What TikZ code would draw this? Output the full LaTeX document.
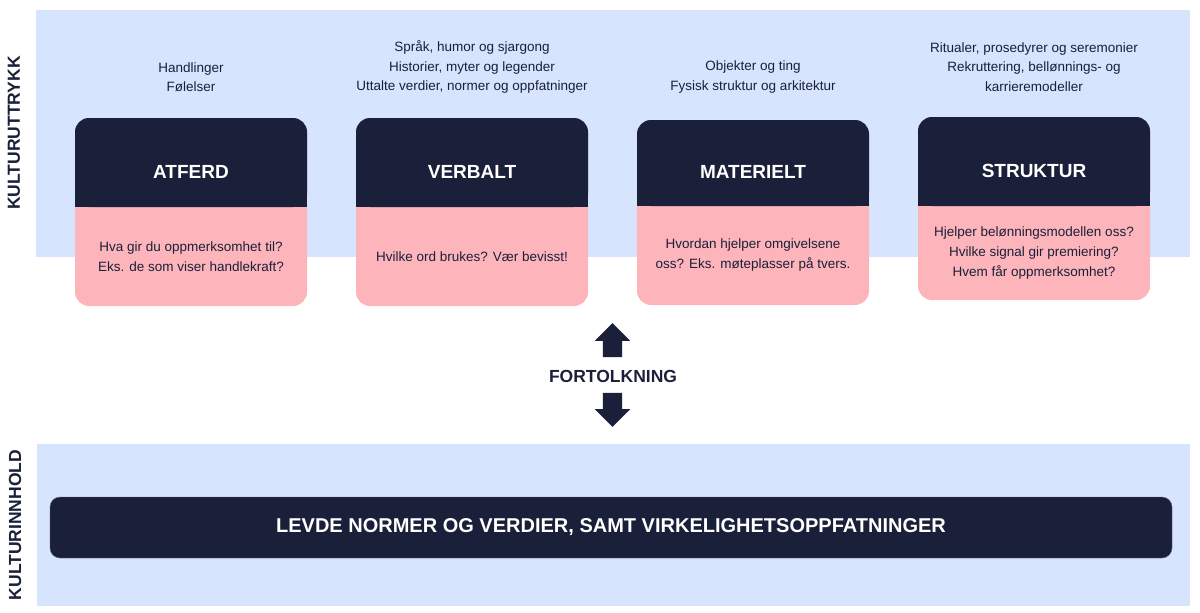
\documentclass[tikz,border=0pt]{standalone}
\usepackage{fontspec}
\setmainfont{Liberation Sans}
\usepackage{tikz}
\usetikzlibrary{positioning, fit, backgrounds, shapes.arrows}
\definecolor{navy}{HTML}{1A2039}
\definecolor{pinkq}{HTML}{FDB5BB}
\definecolor{bandblue}{HTML}{D6E4FD}

\begin{document}
\begin{tikzpicture}[x=1pt, y=-1pt,
  title/.style={rectangle, rounded corners=14pt, fill=navy, text=white,
    minimum width=232pt, minimum height=89pt, inner sep=0pt, outer sep=0pt,
    text height=33pt, text depth=1.4pt,
    font=\fontsize{19}{22}\selectfont\bfseries},
  question/.style={rectangle, minimum width=232pt, minimum height=99pt,
    inner sep=0pt, outer sep=0pt, align=center, text=navy,
    font=\fontsize{13.5}{20}\selectfont},
  cardbg/.style={rectangle, rounded corners=14pt, fill=pinkq, inner sep=0pt},
  note/.style={align=center, text=navy, font=\fontsize{13.5}{19.5}\selectfont},
  side/.style={rotate=90, text=navy, font=\fontsize{17.5}{20}\selectfont\bfseries},
  bigarrow/.style={single arrow, fill=navy, inner sep=0pt,
    minimum height=34pt, single arrow head extend=8pt,
    single arrow tip angle=90}
]
  \useasboundingbox (0,0) rectangle (1200,613);

  \node[side] (uttrykk) at (14,133) {KULTURUTTRYKK};
  \node[side] (innhold) at (15,525) {KULTURINNHOLD};

  % kort
  \node[title] (atferd) at (191,162.5) {ATFERD};
  \node[question, below=0pt of atferd] (atferdq)
    {Hva gir du oppmerksomhet til?\\Eks. de som viser handlekraft?};
  \node[title] (verbalt) at (472,162.5) {VERBALT};
  \node[question, below=0pt of verbalt] (verbaltq)
    {Hvilke ord brukes? Vær bevisst!};
  \node[title, minimum height=86pt] (materielt) at (753,163) {MATERIELT};
  \node[question, below=0pt of materielt] (materieltq)
    {Hvordan hjelper omgivelsene\\oss? Eks. møteplasser på tvers.};
  \node[title] (struktur) at (1034,161.5) {STRUKTUR};
  \node[question, minimum height=94pt, below=0pt of struktur] (strukturq)
    {Hjelper belønningsmodellen oss?\\Hvilke signal gir premiering?\\Hvem får oppmerksomhet?};

  \begin{scope}[on background layer]
    % bakgrunnsfelt
    \fill[bandblue] (36,10) rectangle (1190,257);
    \fill[bandblue] (37,444) rectangle (1190,606);
    \node[cardbg, fit=(atferd)(atferdq)] (atferdbg) {};
    \node[cardbg, fit=(verbalt)(verbaltq)] (verbaltbg) {};
    \node[cardbg, fit=(materielt)(materieltq)] (materieltbg) {};
    \node[cardbg, fit=(struktur)(strukturq)] (strukturbg) {};
    \fill[navy] ([yshift=14pt]atferd.south west) rectangle (atferd.south east);
    \fill[navy] ([yshift=14pt]verbalt.south west) rectangle (verbalt.south east);
    \fill[navy] ([yshift=14pt]materielt.south west) rectangle (materielt.south east);
    \fill[navy] ([yshift=14pt]struktur.south west) rectangle (struktur.south east);
  \end{scope}

  % stikkord over kortene
  \node[note] (atferdn) at (191,77) {Handlinger\\Følelser};
  \node[note] (verbaltn) at (472,67) {Språk, humor og sjargong\\Historier, myter og legender\\Uttalte verdier, normer og oppfatninger};
  \node[note] (materieltn) at (753,77) {Objekter og ting\\Fysisk struktur og arkitektur};
  \node[note] (strukturn) at (1034,67) {Ritualer, prosedyrer og seremonier\\Rekruttering, bellønnings- og\\karrieremodeller};

  % fortolkning
  \node[text=navy, font=\fontsize{17.5}{20}\selectfont\bfseries] (tolk) at (613,376) {FORTOLKNING};
  \node[bigarrow, shape border rotate=90] (opp) at (612.5,345) {\phantom{\rule{19pt}{19pt}}};
  \node[bigarrow, shape border rotate=270] (ned) at (612.5,405) {\phantom{\rule{19pt}{19pt}}};

  % kulturinnhold
  \node[rectangle, rounded corners=10pt, fill=navy, draw=navy!70, text=white,
    minimum width=1122pt, minimum height=61pt,
    font=\fontsize{20}{24}\selectfont\bfseries] (levde) at (611,527.5)
    {LEVDE NORMER OG VERDIER, SAMT VIRKELIGHETSOPPFATNINGER};
\end{tikzpicture}
\end{document}
